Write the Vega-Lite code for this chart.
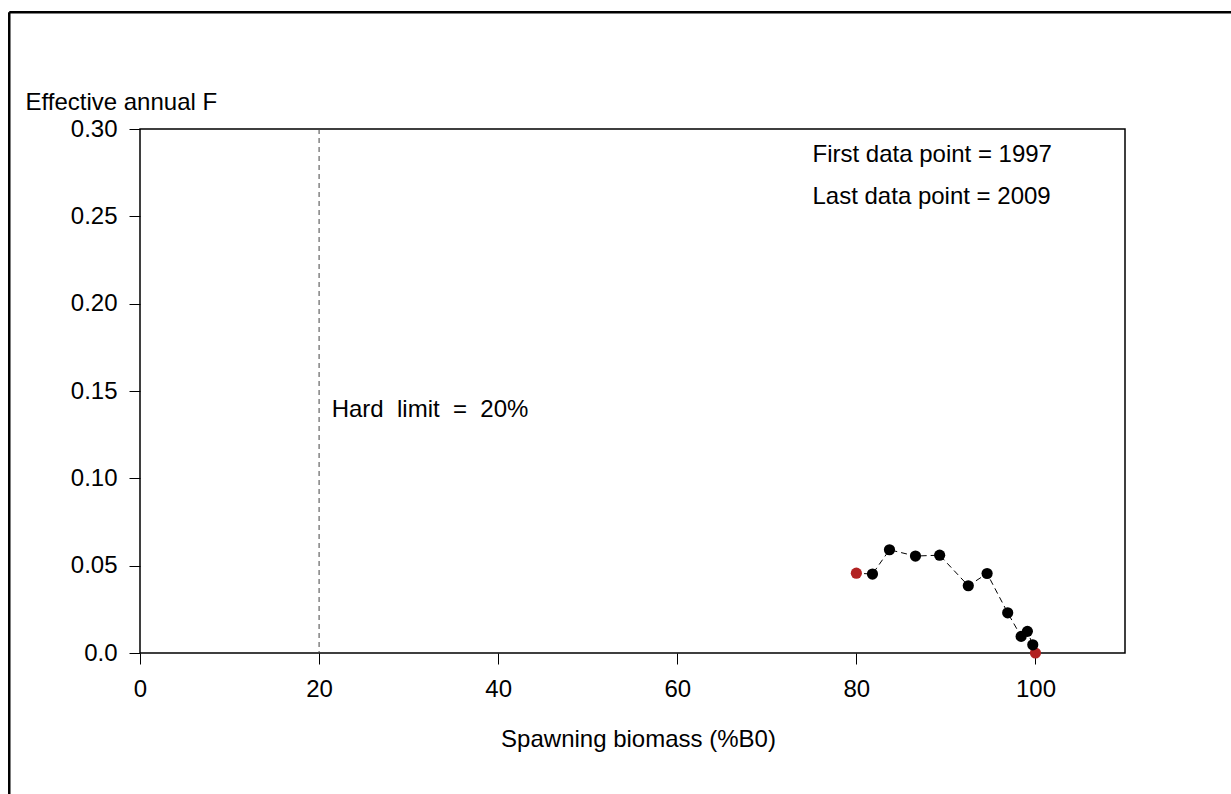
{
  "$schema": "https://vega.github.io/schema/vega-lite/v6.json",
  "width": 985,
  "height": 524,
  "autosize": {"type": "none"},
  "padding": {"left": 140, "top": 129, "right": 106, "bottom": 141},
  "background": "white",
  "config": {
    "font": "Liberation Sans",
    "view": {"stroke": "black", "strokeWidth": 1.5},
    "axis": {"grid": false, "domain": false, "tickColor": "black", "tickSize": 11, "labelColor": "black", "titleColor": "black", "labelFont": "Liberation Sans", "titleFont": "Liberation Sans", "labelFontSize": 24, "titleFontSize": 24, "titleFontWeight": "normal", "labelFlush": false}
  },
  "datasets": {
    "pts": [
      {"seq": 1, "biomass": 100.0, "F": 0.0, "end": "yes"},
      {"seq": 2, "biomass": 99.7, "F": 0.0047, "end": "no"},
      {"seq": 3, "biomass": 99.1, "F": 0.0124, "end": "no"},
      {"seq": 4, "biomass": 98.4, "F": 0.0095, "end": "no"},
      {"seq": 5, "biomass": 96.9, "F": 0.0230, "end": "no"},
      {"seq": 6, "biomass": 94.6, "F": 0.0455, "end": "no"},
      {"seq": 7, "biomass": 92.5, "F": 0.0385, "end": "no"},
      {"seq": 8, "biomass": 89.3, "F": 0.0560, "end": "no"},
      {"seq": 9, "biomass": 86.6, "F": 0.0555, "end": "no"},
      {"seq": 10, "biomass": 83.7, "F": 0.0591, "end": "no"},
      {"seq": 11, "biomass": 81.8, "F": 0.0452, "end": "no"},
      {"seq": 12, "biomass": 80.0, "F": 0.0457, "end": "yes"}
    ],
    "notes": [
      {"label": "First data point = 1997", "bx": 75.1, "fy": 0.285},
      {"label": "Last data point = 2009", "bx": 75.1, "fy": 0.261},
      {"label": "Hard\u00a0 limit\u00a0 =\u00a0 20%", "bx": 21.4, "fy": 0.139}
    ]
  },
  "layer": [
    {
      "data": {"values": [{}]},
      "mark": {"type": "rule", "clip": false, "color": "black", "strokeWidth": 2.5},
      "encoding": {
        "x": {"datum": -14.6, "type": "quantitative"},
        "y": {"datum": 0.3668, "type": "quantitative"},
        "y2": {"datum": -0.2}
      }
    },
    {
      "data": {"values": [{}]},
      "mark": {"type": "rule", "clip": false, "color": "black", "strokeWidth": 2.5},
      "encoding": {
        "x": {"datum": -14.6, "type": "quantitative"},
        "x2": {"datum": 130},
        "y": {"datum": 0.3668, "type": "quantitative"}
      }
    },
    {
      "data": {"values": [{}]},
      "mark": {"type": "rule", "color": "#444444", "strokeWidth": 1, "strokeDash": [5, 4]},
      "encoding": {
        "x": {"datum": 20, "type": "quantitative"}
      }
    },
    {
      "data": {"name": "pts"},
      "mark": {"type": "line", "color": "black", "strokeWidth": 1, "strokeDash": [6, 4]},
      "encoding": {
        "x": {"field": "biomass", "type": "quantitative"},
        "y": {"field": "F", "type": "quantitative"},
        "order": {"field": "seq"}
      }
    },
    {
      "data": {"name": "pts"},
      "mark": {"type": "circle", "opacity": 1, "size": 125, "clip": false},
      "encoding": {
        "x": {"field": "biomass", "type": "quantitative", "scale": {"domain": [0, 110], "nice": false, "zero": false},
          "axis": {"values": [0, 20, 40, 60, 80, 100], "title": "Spawning biomass (%B0)", "labelPadding": 13, "titlePadding": 26, "titleX": 498, "titleAnchor": null, "titleAlign": "center"}},
        "y": {"field": "F", "type": "quantitative", "scale": {"domain": [0, 0.3], "nice": false},
          "axis": {"values": [0, 0.05, 0.1, 0.15, 0.2, 0.25, 0.3], "labelExpr": "datum.value == 0 ? '0.0' : format(datum.value, '.2f')", "labelPadding": 12, "title": "Effective annual F", "titleAngle": 0, "titleAlign": "left", "titleBaseline": "middle", "titleX": -115, "titleY": -27}},
        "color": {"field": "end", "type": "nominal", "scale": {"domain": ["yes", "no"], "range": ["#B22222", "black"]}, "legend": null},
        "order": {"field": "seq"}
      }
    },
    {
      "data": {"name": "notes"},
      "mark": {"type": "text", "align": "left", "baseline": "middle", "fontSize": 24, "color": "black"},
      "encoding": {
        "x": {"field": "bx", "type": "quantitative"},
        "y": {"field": "fy", "type": "quantitative"},
        "text": {"field": "label"}
      }
    }
  ]
}
